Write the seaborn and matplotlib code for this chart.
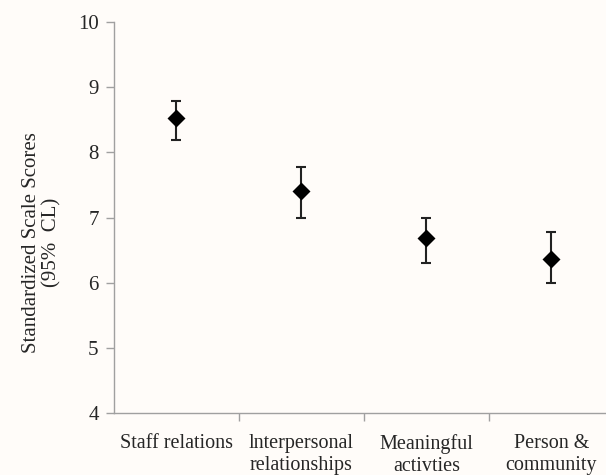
import numpy as np
import pandas as pd
import matplotlib
matplotlib.use("Agg")
import matplotlib.pyplot as plt
import seaborn as sns

# data
categories = ["Staff relations", "lnterpersonal\nrelationships", "Meaningful\nactivties", "Person &\ncommunity"]
means = [8.52, 7.40, 6.68, 6.36]
lower = [8.19, 6.99, 6.30, 6.00]
upper = [8.78, 7.77, 7.00, 6.78]

sns.set_style("ticks")
plt.rcParams["font.family"] = ["Liberation Serif", "DejaVu Serif"]

df = pd.DataFrame({"scale": categories, "score": means})

bg = "#fffcf9"
fig = plt.figure(figsize=(6.06, 4.75), dpi=100, facecolor=bg)
ax = fig.add_axes([0.188, 0.1305, 0.812, 0.8232])
ax.set_facecolor(bg)

x = np.arange(len(categories))
yerr = [np.array(means) - np.array(lower), np.array(upper) - np.array(means)]
ax.errorbar(x, means, yerr=yerr, fmt="none", ecolor="#222222", elinewidth=1.5,
            capsize=3.8, capthick=1.5, zorder=2)
sns.pointplot(data=df, x="scale", y="score", linestyle="none", markers="D",
              color="black", markersize=7.5, errorbar=None, ax=ax, zorder=3)

ax.set_ylim(4, 10)
ax.set_yticks([4, 5, 6, 7, 8, 9, 10])
ax.set_xlim(-0.5, 3.436)
ax.set_xticks(x)
ax.set_xticklabels(categories)
ax.set_xticks([0.5, 1.5, 2.5], minor=True)
ax.tick_params(axis="x", which="major", length=0, pad=15, labelsize=14.5)
ax.tick_params(axis="x", which="minor", length=6, color="#a0a0a0", width=1)
ax.tick_params(axis="y", length=6, color="#a0a0a0", width=1, labelsize=15, pad=5)
ax.set_xlabel("")
ax.set_ylabel("Standardized Scale Scores\n(95%  CL)", fontsize=15, labelpad=12,
              linespacing=1.1, y=0.437)

for s in ["top", "right"]:
    ax.spines[s].set_visible(False)
for s in ["left", "bottom"]:
    ax.spines[s].set_color("#a0a0a0")
    ax.spines[s].set_linewidth(1)

plt.savefig("out.png", dpi=100, facecolor=bg)
